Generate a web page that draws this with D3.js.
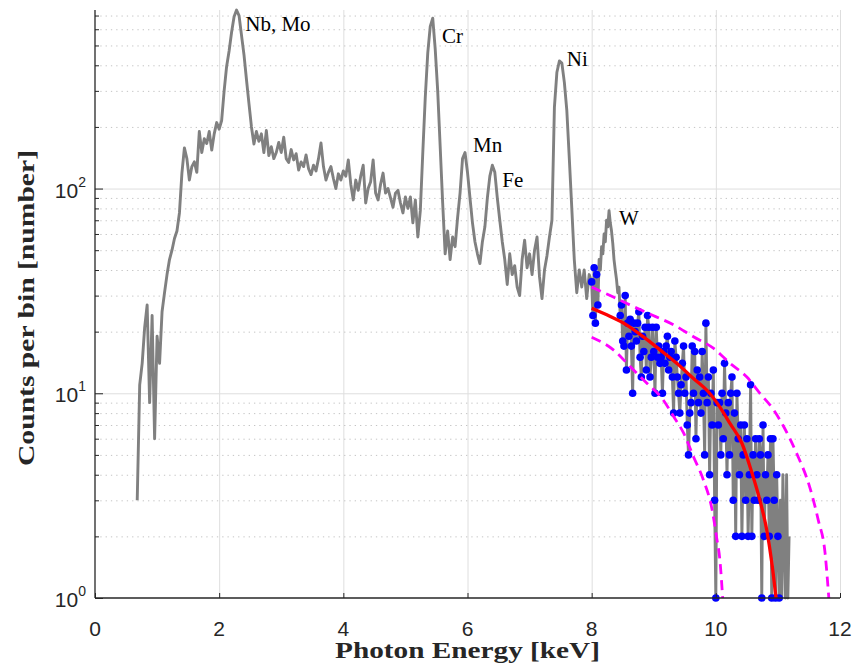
<!DOCTYPE html>
<html>
<head>
<meta charset="utf-8">
<script src="https://cdn.jsdelivr.net/npm/d3@7/dist/d3.min.js"></script>
<style>
  body { margin: 0; background: #fff; }
  svg { display: block; }
</style>
</head>
<body>
<svg id="chart" width="859" height="666"></svg>
<script>
// spectrum below 8 keV, one value every 0.04 keV
const lowStart = 0.68, lowStep = 0.04;
const lowCounts = [
  3, 11, 14, 21, 27, 9, 24, 6, 19, 14, 25, 31, 38, 45, 50, 57, 62, 76, 119, 158,
  140, 110, 128, 135, 120, 190, 150, 175, 166, 190, 154, 185, 210, 195, 215, 300, 395, 470, 580, 690,
  745, 700, 560, 450, 340, 260, 200, 165, 190, 170, 185, 150, 192, 145, 160, 140, 150, 168, 150, 178,
  140, 134, 155, 138, 148, 123, 135, 128, 146, 125, 117, 130, 122, 140, 167, 128, 110, 120, 128, 112,
  100, 118, 110, 122, 115, 138, 105, 88, 110, 98, 115, 130, 85, 100, 108, 138, 95, 88, 105, 119,
  95, 100, 90, 81, 95, 98, 85, 76, 91, 80, 91, 68, 88, 58, 78, 150, 280, 460, 620, 680,
  480, 300, 160, 85, 48, 62, 45, 58, 52, 72, 95, 140, 150, 120, 90, 68, 55, 48, 43, 55,
  65, 90, 115, 130, 120, 90, 70, 55, 45, 34, 48, 38, 42, 33, 30, 45, 56, 41, 48, 38,
  50, 58, 37, 29, 40, 47, 58, 70, 250, 370, 420, 410, 330, 240, 140, 80, 45, 31, 40, 33,
  40, 29, 38
];

// tail above 8 keV, one value every 0.02 keV
const tailStart = 8.0, tailStep = 0.02;
const tailCounts = [
  35, 24, 41, 22, 38, 27, 45, 40, 52, 48, 60, 55, 70, 65, 78, 68, 62, 54, 45, 40,
  36, 31, 33, 24, 27, 18, 17, 30, 13, 22, 19, 23, 17, 10, 22, 20, 18, 22, 25, 15,
  12, 19, 16, 21, 13, 24, 21, 12, 15, 21, 16, 10, 21, 15, 17, 14, 15, 10, 16, 14,
  17, 19, 13, 15, 16, 12, 8, 18, 15, 12, 10, 8, 11, 14, 17, 10, 12, 7, 5, 8,
  9, 17, 10, 16, 6, 13, 9, 12, 8, 16, 10, 5, 22, 9, 12, 4, 10, 7, 13, 3,
  1, 9, 7, 9, 5, 10, 6, 14, 8, 4, 9, 5, 10, 12, 3, 8, 2, 10, 6, 4,
  7, 2, 5, 7, 3, 6, 2, 4, 11, 2, 5, 3, 6, 4, 3, 6, 5, 1, 7, 2,
  4, 3, 5, 2, 6, 1, 6, 3, 1, 4, 2, 1, 3, 1, 4, 2, 1, 4, 1, 2
];

// points used for the fit (W peak left out)
const dotRange = [8.0, 11.02];
const wWindow = [8.11, 8.45];

// fitted curve and its bounds
const fitE = [8.0, 8.3, 8.56, 8.83, 9.1, 9.37, 9.64, 9.9, 10.06, 10.23, 10.42, 10.58, 10.71, 10.82, 10.9, 10.97];
const fitCounts = [26, 23.7, 21.6, 18.9, 16.3, 14.0, 11.8, 10.0, 8.6, 7.1, 5.7, 4.1, 3.0, 2.15, 1.5, 1.0];
const upperE = [8.0, 8.35, 8.56, 8.99, 9.32, 9.64, 9.96, 10.23, 10.5, 10.71, 10.93, 11.09, 11.3, 11.51, 11.65, 11.76, 11.82];
const upperCounts = [33, 29.5, 27.5, 24, 21.6, 18.9, 16.6, 14.0, 12.0, 10.0, 8.3, 6.9, 5.1, 3.5, 2.4, 1.65, 1.0];
const lowerE = [8.0, 8.35, 8.62, 8.89, 9.15, 9.32, 9.48, 9.64, 9.8, 9.94, 10.01, 10.07, 10.11];
const lowerCounts = [18.8, 16.3, 13.5, 11.2, 9.3, 7.7, 6.4, 4.9, 3.77, 2.7, 2.0, 1.48, 1.0];

// peak labels
const peakNames = ["Nb, Mo", "Cr", "Mn", "Fe", "Ni", "W"];
const peakE = [2.42, 5.59, 6.09, 6.56, 7.6, 8.44];
const peakCounts = [590, 514, 151, 102, 397, 66];

const xTicks = [0, 2, 4, 6, 8, 10, 12];
const yMajor = [1, 10, 100];
const yMinor = [2, 3, 4, 5, 6, 7, 8, 9, 20, 30, 40, 50, 60, 70, 80, 90, 200, 300, 400, 500, 600, 700];

const margin = {left: 95, right: 19, top: 10, bottom: 68};
const width = 859, height = 666;

const svg = d3.select("#chart");
const x = d3.scaleLinear().domain([0, 12]).range([margin.left, width - margin.right]);
const y = d3.scaleLog().domain([1, 745]).range([height - margin.bottom, margin.top]);

// build the points
const spectrum = [];
lowCounts.forEach(function (c, i) { spectrum.push({e: lowStart + i * lowStep, c: c}); });
tailCounts.forEach(function (c, i) { spectrum.push({e: tailStart + i * tailStep, c: c}); });
const dots = spectrum.filter(function (d) {
  return d.e >= dotRange[0] - 1e-9 && d.e <= dotRange[1] + 1e-9 &&
    !(d.e > wWindow[0] && d.e < wWindow[1]);
});

// grid
const gridG = svg.append("g");
gridG.append("g")
  .attr("transform", "translate(0," + (height - margin.bottom) + ")")
  .call(d3.axisBottom(x).tickValues(xTicks.slice(1)).tickSize(-(height - margin.bottom - margin.top)).tickFormat(""))
  .call(function (g) { g.select(".domain").remove(); })
  .selectAll("line").attr("stroke", "#dedede").attr("stroke-width", 1);
gridG.append("g")
  .attr("transform", "translate(" + margin.left + ",0)")
  .call(d3.axisLeft(y).tickValues(yMinor).tickSize(-(width - margin.left - margin.right)).tickFormat(""))
  .call(function (g) { g.select(".domain").remove(); })
  .selectAll("line").attr("stroke", "#c4c4c4").attr("stroke-width", 1).attr("stroke-dasharray", "1.3,4");
gridG.append("g")
  .attr("transform", "translate(" + margin.left + ",0)")
  .call(d3.axisLeft(y).tickValues(yMajor.slice(1)).tickSize(-(width - margin.left - margin.right)).tickFormat(""))
  .call(function (g) { g.select(".domain").remove(); })
  .selectAll("line").attr("stroke", "#dedede").attr("stroke-width", 1);

// spectrum line
const line = d3.line().x(function (d) { return x(d.e); }).y(function (d) { return y(d.c); });
svg.append("path").datum(spectrum)
  .attr("d", line)
  .attr("fill", "none").attr("stroke", "#808080").attr("stroke-width", 2.9)
  .attr("stroke-linejoin", "round");

// fit points
svg.append("g").selectAll("circle").data(dots).enter().append("circle")
  .attr("cx", function (d) { return x(d.e); })
  .attr("cy", function (d) { return y(d.c); })
  .attr("r", 3.8)
  .attr("fill", "#0000ff");

// bounds and fit
const curve = d3.line().curve(d3.curveMonotoneX)
  .x(function (d) { return x(d[0]); }).y(function (d) { return y(d[1]); });
[[upperE, upperCounts], [lowerE, lowerCounts]].forEach(function (b) {
  svg.append("path").datum(d3.zip(b[0], b[1]))
    .attr("d", curve)
    .attr("fill", "none").attr("stroke", "#ff00ff").attr("stroke-width", 2.8)
    .attr("stroke-dasharray", "10,6");
});
svg.append("path").datum(d3.zip(fitE, fitCounts))
  .attr("d", curve)
  .attr("fill", "none").attr("stroke", "#ff0000").attr("stroke-width", 3.3);

// axes
const axisColor = "#262626";
const xAxis = svg.append("g")
  .attr("transform", "translate(0," + (height - margin.bottom) + ")")
  .call(d3.axisBottom(x).tickValues(xTicks).tickSize(-5).tickPadding(0).tickFormat(""));
xAxis.select(".domain").attr("stroke", axisColor).attr("stroke-width", 1.3).attr("d", "M" + margin.left + ",0H" + (width - margin.right));
xAxis.selectAll("line").attr("stroke", axisColor);

const yAxis = svg.append("g")
  .attr("transform", "translate(" + margin.left + ",0)")
  .call(d3.axisLeft(y).tickValues(yMajor).tickSize(-8).tickFormat(""));
yAxis.select(".domain").attr("stroke", axisColor).attr("stroke-width", 1.3).attr("d", "M0," + margin.top + "V" + (height - margin.bottom));
yAxis.selectAll("line").attr("stroke", axisColor);
svg.append("g")
  .attr("transform", "translate(" + margin.left + ",0)")
  .call(d3.axisLeft(y).tickValues(yMinor).tickSize(-4).tickFormat(""))
  .call(function (g) { g.select(".domain").remove(); })
  .selectAll("line").attr("stroke", axisColor);

// tick labels
svg.append("g").selectAll("text").data(xTicks).enter().append("text")
  .attr("x", function (d) { return x(d); })
  .attr("y", height - margin.bottom + 38)
  .attr("text-anchor", "middle")
  .style("font-family", "'Liberation Sans', Arial, sans-serif")
  .style("font-size", "21px")
  .attr("fill", axisColor)
  .text(function (d) { return d; });

const yLab = svg.append("g").selectAll("text").data(yMajor).enter().append("text")
  .attr("x", margin.left - 9)
  .attr("y", function (d) { return y(d) + 9; })
  .attr("text-anchor", "end")
  .style("font-family", "'Liberation Sans', Arial, sans-serif")
  .style("font-size", "21px")
  .attr("fill", axisColor);
yLab.append("tspan").text("10");
yLab.append("tspan").attr("dy", -11).style("font-size", "14px")
  .text(function (d) { return Math.round(Math.log10(d)); });

// axis titles
svg.append("text")
  .attr("x", (margin.left + width - margin.right) / 2)
  .attr("y", 658)
  .attr("text-anchor", "middle")
  .attr("textLength", 265).attr("lengthAdjust", "spacingAndGlyphs")
  .style("font-family", "'Liberation Serif', 'Times New Roman', serif")
  .style("font-weight", "bold").style("font-size", "23px")
  .attr("fill", axisColor)
  .text("Photon Energy [keV]");
svg.append("text")
  .attr("transform", "translate(34,308) rotate(-90)")
  .attr("text-anchor", "middle")
  .attr("textLength", 316).attr("lengthAdjust", "spacingAndGlyphs")
  .style("font-family", "'Liberation Serif', 'Times New Roman', serif")
  .style("font-weight", "bold").style("font-size", "23px")
  .attr("fill", axisColor)
  .text("Counts per bin [number]");

// peak labels
svg.append("g").selectAll("text").data(peakNames).enter().append("text")
  .attr("x", function (d, i) { return x(peakE[i]); })
  .attr("y", function (d, i) { return y(peakCounts[i]); })
  .style("font-family", "'Liberation Serif', 'Times New Roman', serif")
  .style("font-size", "21px")
  .attr("fill", "#000")
  .text(function (d) { return d; });
</script>
</body>
</html>
